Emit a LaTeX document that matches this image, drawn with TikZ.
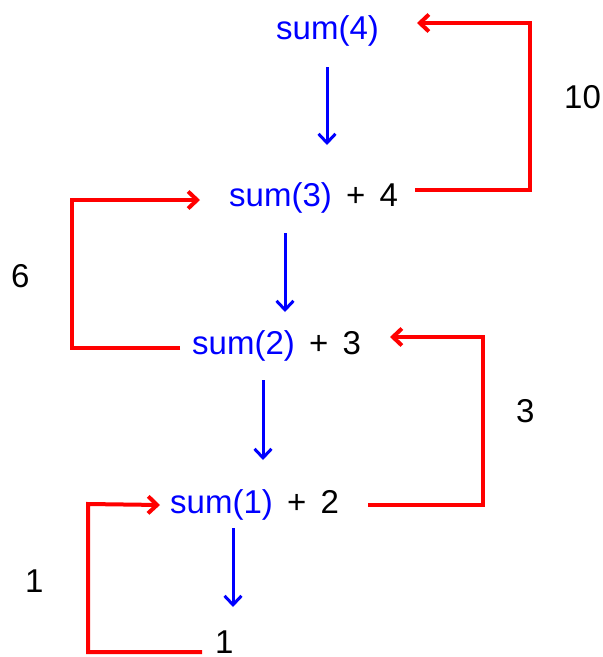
\documentclass[tikz,border=0pt]{standalone}
\usepackage{fontspec}
\setmainfont{Liberation Sans}[WordSpace=1.55]
\usetikzlibrary{arrows.meta}
\begin{document}
\begin{tikzpicture}[x=1pt,y=-1pt,
  lbl/.style={anchor=base west, inner sep=0pt, font=\fontsize{33}{40}\selectfont},
  redline/.style={draw=red, line width=4pt},
  redarr/.style={redline, -{Straight Barb[length=9pt,width=17pt]}},
  bluearr/.style={draw=blue, line width=3pt, -{Straight Barb[length=9pt,width=17pt]}}]
\useasboundingbox (0,0) rectangle (603,657);
% text nodes
\node[lbl] (s4) at (276,39) {\color{blue}sum(4)};
\node[lbl] (s3) at (229,206) {{\color{blue}sum(3)} + 4};
\node[lbl] (s2) at (192,354) {{\color{blue}sum(2)} + 3};
\node[lbl] (s1) at (170,513) {{\color{blue}sum(1)} + 2};
\node[lbl] (one) at (215,653) {1};
\node[lbl] (l10) at (564,108) {10};
\node[lbl] (l6) at (11,287) {6};
\node[lbl] (l3) at (516,422) {3};
\node[lbl] (l1) at (25,592) {1};
% connector end points
\coordinate (b4a) at (327,67);  \coordinate (b4b) at (327,145);
\coordinate (b3a) at (285,233); \coordinate (b3b) at (285,312);
\coordinate (b2a) at (263,380); \coordinate (b2b) at (263,460);
\coordinate (b1a) at (233,528); \coordinate (b1b) at (233,607);
\coordinate (r4a) at (415,190); \coordinate (r4b) at (417,23);
\coordinate (r3a) at (180,348); \coordinate (r3b) at (200,200);
\coordinate (r2a) at (368,505); \coordinate (r2b) at (390,337);
\coordinate (r1a) at (202,652); \coordinate (r1b) at (160,505);
% blue arrows
\draw[bluearr] (b4a) -- (b4b);
\draw[bluearr] (b3a) -- (b3b);
\draw[bluearr] (b2a) -- (b2b);
\draw[bluearr] (b1a) -- (b1b);
% red loops
\draw[redarr] (r4a) -- (530,190) -- (530,23) -- (r4b);
\draw[redarr] (r3a) -- (72,348) -- (72,200) -- (r3b);
\draw[redarr] (r2a) -- (483,505) -- (483,337) -- (r2b);
\draw[redarr] (r1a) -- (88,652) -- (88,504) -- (r1b);
\end{tikzpicture}
\end{document}
